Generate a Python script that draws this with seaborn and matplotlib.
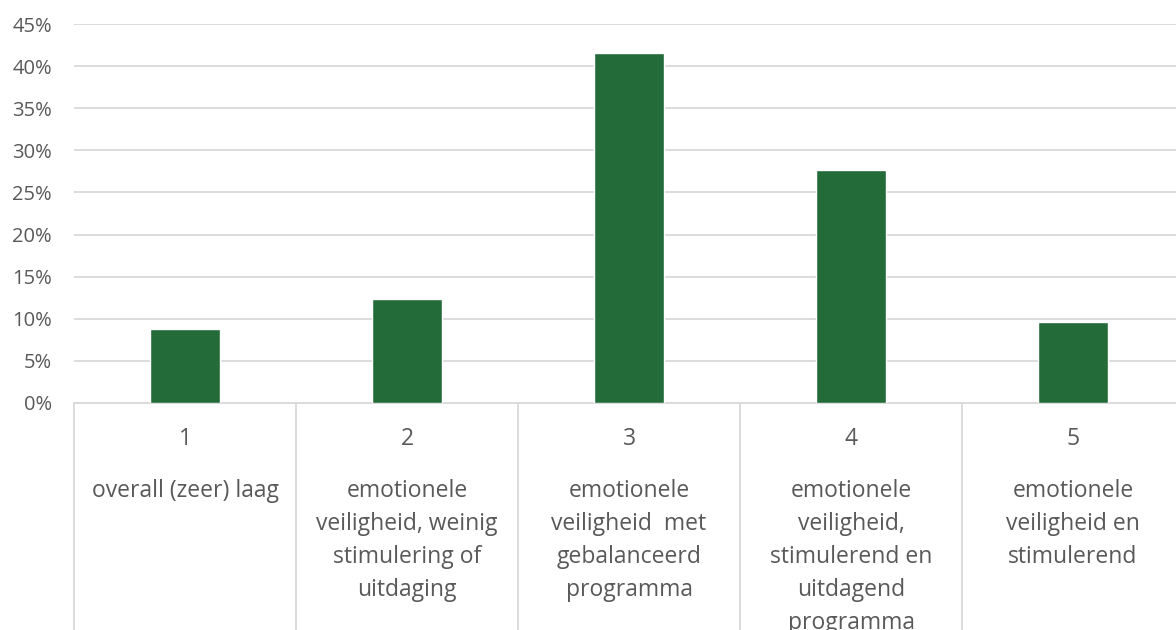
import numpy as np
import pandas as pd
import matplotlib.pyplot as plt
import seaborn as sns

sns.set_style("white")
plt.rcParams["font.family"] = ["Open Sans", "DejaVu Sans"]

categories = ["1", "2", "3", "4", "5"]
descriptions = [
    "overall (zeer) laag",
    "emotionele\nveiligheid, weinig\nstimulering of\nuitdaging",
    "emotionele\nveiligheid  met\ngebalanceerd\nprogramma",
    "emotionele\nveiligheid,\nstimulerend en\nuitdagend\nprogramma",
    "emotionele\nveiligheid en\nstimulerend",
]
shares = [0.088, 0.124, 0.416, 0.277, 0.096]

df = pd.DataFrame({"cat": categories, "share": shares})

text_col = "#595959"
grid_col = "#D9D9D9"

fig = plt.figure(figsize=(11.76, 6.3), dpi=100)
ax = fig.add_axes([74 / 1176, 227 / 630, 1110 / 1176, 379 / 630])

sns.barplot(data=df, x="cat", y="share", color="#246B3A", width=0.315,
            saturation=1, ax=ax, zorder=3)

ax.set_ylim(0, 0.45)
ax.set_yticks(np.arange(0, 0.46, 0.05))
ax.set_yticklabels([f"{int(round(v * 100))}%" for v in np.arange(0, 0.46, 0.05)])
ax.yaxis.grid(True, color=grid_col, linewidth=1.3, zorder=0)
ax.tick_params(axis="y", length=0, labelsize=14.5, labelcolor=text_col, pad=16)

ax.set_xlim(-0.5, 4.5)
ax.set_xticks(range(5))
ax.set_xticklabels(categories)
ax.tick_params(axis="x", which="major", length=0, labelsize=16.5,
               labelcolor=text_col, pad=17)
ax.set_xticks(np.arange(-0.5, 5, 1), minor=True)
ax.tick_params(axis="x", which="minor", bottom=True, length=170, width=1.3,
               color=grid_col, direction="out")

for i, d in enumerate(descriptions):
    ax.annotate(d, xy=(i, 0), xycoords=("data", "axes fraction"),
                xytext=(0, -55), textcoords="offset points",
                ha="center", va="top", fontsize=16.5, color=text_col,
                linespacing=1.5)

for s in ["top", "right", "left"]:
    ax.spines[s].set_visible(False)
ax.spines["bottom"].set_color(grid_col)
ax.spines["bottom"].set_linewidth(1.3)
ax.set_xlabel("")
ax.set_ylabel("")

fig.savefig("out.png", dpi=100)
